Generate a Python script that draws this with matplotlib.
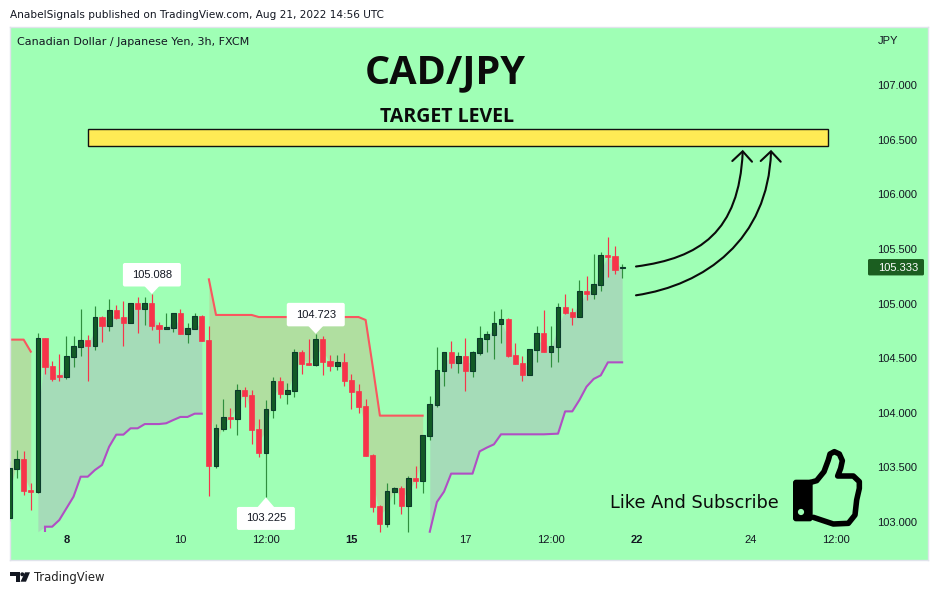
import matplotlib
matplotlib.use("Agg")
import matplotlib.pyplot as plt
import numpy as np
from matplotlib.patches import FancyBboxPatch, PathPatch, Polygon, Rectangle, Circle
from matplotlib.path import Path

opens = [103.040,103.488,103.574,103.293,103.278,104.685,104.429,104.346,104.331,104.514,
         104.606,104.667,104.615,104.877,104.798,104.941,104.877,104.825,105.002,104.954,
         105.005,104.804,104.770,104.780,104.914,104.725,104.770,104.886,104.667,103.516,
         103.855,103.962,103.946,104.209,104.163,103.852,103.635,104.029,104.291,104.175,
         104.203,104.557,104.456,104.441,104.676,104.474,104.432,104.465,104.300,104.200,
         104.062,103.614,103.147,102.985,103.278,103.311,103.150,103.403,103.379,103.791,
         104.074,104.386,104.557,104.456,104.520,104.383,104.548,104.679,104.716,104.816,
         104.859,104.529,104.456,104.349,104.578,104.731,104.560,104.606,104.969,104.923,
         104.880,105.115,105.091,105.173,105.445,105.436,105.323]
closes = [103.491,103.574,103.287,103.278,104.682,104.422,104.313,104.328,104.517,104.609,
          104.664,104.612,104.874,104.798,104.938,104.868,104.822,105.002,104.951,105.002,
          104.798,104.767,104.783,104.911,104.722,104.774,104.883,104.661,103.513,103.858,
          103.958,103.943,104.206,104.154,103.842,103.632,104.032,104.288,104.172,104.206,
          104.554,104.447,104.438,104.673,104.465,104.429,104.462,104.291,104.190,104.053,
          103.604,103.137,102.982,103.281,103.308,103.147,103.400,103.375,103.794,104.078,
          104.389,104.554,104.456,104.517,104.383,104.554,104.682,104.719,104.819,104.856,
          104.520,104.447,104.346,104.581,104.728,104.557,104.609,104.966,104.914,104.877,
          105.112,105.088,105.176,105.442,105.427,105.308,105.333]
highs = [103.562,103.659,103.650,103.357,104.731,104.685,104.474,104.538,104.703,104.703,
         104.951,104.712,104.978,104.886,105.042,104.987,105.024,105.002,105.060,105.060,
         105.088,104.832,104.914,104.911,104.951,104.822,104.914,104.896,104.795,103.897,
         104.126,104.044,104.264,104.236,104.209,103.943,104.117,104.328,104.328,104.273,
         104.584,104.575,104.676,104.723,104.703,104.529,104.529,104.548,104.355,104.264,
         104.126,103.623,103.156,103.357,103.321,103.330,103.421,103.513,103.794,104.154,
         104.603,104.554,104.658,104.557,104.685,104.566,104.795,104.749,104.932,104.951,
         104.868,104.639,104.520,104.581,104.795,104.941,104.795,105.002,105.088,104.960,
         105.216,105.253,105.454,105.473,105.610,105.527,105.363]
lows = [103.012,103.403,103.247,103.110,103.266,104.355,104.291,104.291,104.310,104.419,
        104.520,104.291,104.575,104.648,104.749,104.859,104.612,104.822,104.731,104.804,
        104.758,104.639,104.770,104.740,104.722,104.639,104.767,104.661,103.238,103.495,
        103.836,103.861,103.797,104.053,103.714,103.595,103.225,103.952,104.136,104.081,
        104.145,104.355,104.438,104.429,104.346,104.383,104.392,104.245,104.035,103.998,
        103.604,103.092,102.908,102.954,103.165,103.073,102.908,103.311,103.266,103.751,
        104.056,104.245,104.410,104.364,104.200,104.328,104.529,104.557,104.493,104.639,
        104.511,104.447,104.291,104.346,104.465,104.557,104.419,104.465,104.905,104.804,
        104.877,105.033,105.042,105.115,105.244,105.271,105.234]

upper_a_start = 0
upper_a = [104.670,104.670,104.670,104.560]
upper_b_start = 28
upper_b = [105.222,104.896,104.896,104.896,104.896,104.896,104.896,
           104.877,104.877,104.877,104.877,104.877,104.877,104.877,104.877,
           104.877,104.877,104.877,104.877,104.877,104.877,104.877,
           104.850,104.422,103.974,103.974,103.974,103.974,103.974,103.974,103.974]
lower_a_start = 4
lower_a = [102.911,102.957,102.957,103.018,103.125,103.232,103.415,103.415,103.476,103.522,
           103.690,103.800,103.800,103.858,103.858,103.897,103.897,103.897,103.904,103.934,
           103.962,103.962,103.992,103.992]
lower_b_start = 59
lower_b = [102.911,103.183,103.278,103.443,103.443,103.443,103.443,103.647,103.681,103.711,
           103.803,103.803,103.803,103.803,103.803,103.803,103.803,103.806,103.809,104.013,
           104.013,104.117,104.239,104.310,104.343,104.462,104.462,104.462]

y_ticks = [103.0,103.5,104.0,104.5,105.0,105.5,106.0,106.5,107.0]
x_tick_pos = [8,24,36,48,64,76,88,104,116]
x_tick_labels = ["8","10","12:00","15","17","12:00","22","24","12:00"]
bold_labels = ["8","15","22"]
last_price = 105.333
target_low, target_high = 106.44, 106.60
target_start, target_end = 11.1, 114.9
callouts = [(20,105.088,"105.088",1),(43,104.723,"104.723",1),(36,103.225,"103.225",-1)]

W,H = 938,595
BG = "#9FFFB5"; GREEN="#135A26"; GEDGE="#0C3B2C"; GWICK="#2F8F3E"; RED="#F7344A"
LINE_R="#F9575F"; LINE_P="#B04FC4"; FILL_R="#B0DFA0"; FILL_P="#A5DCB8"
TXT="#131722"
TICKFONT="Liberation Sans"; UI="DejaVu Sans"

fig = plt.figure(figsize=(W/100,H/100),dpi=100,facecolor="white")
L,R,T,B = 10,928,27,559.5
ax = fig.add_axes([L/W,1-B/H,(R-L)/W,(B-T)/H],facecolor=BG)
a,b = 9.4,7.125
ax.set_xlim((L-a)/b,(R-a)/b)
ax.set_ylim(103-(B-522)/109.2,103+(522-T)/109.2)
for s in ax.spines.values():
    s.set_color("#E0E3EB"); s.set_linewidth(1)

xs = np.arange(len(opens))
op,cl,hi,lo = map(np.array,(opens,closes,highs,lows))
mid = (op+cl)/2

def seg(start,vals):
    return np.arange(start,start+len(vals)),np.array(vals)

for st,v in ((upper_a_start,upper_a),(upper_b_start,upper_b)):
    x,y = seg(st,v)
    ax.fill_between(x,y,mid[x],color=FILL_R,lw=0,zorder=1)
    ax.plot(x,y,color=LINE_R,lw=1.5,zorder=2,solid_joinstyle="round")
for st,v in ((lower_a_start,lower_a),(lower_b_start,lower_b)):
    x,y = seg(st,v)
    ax.fill_between(x,y,mid[x],color=FILL_P,lw=0,zorder=1)
x,y = seg(lower_a_start,lower_a)
ax.plot(x[1:],y[1:],color=LINE_P,lw=1.5,zorder=2)
ax.vlines(x[1],y[0],y[1],color=LINE_P,lw=1.5,zorder=2)
x,y = seg(lower_b_start,lower_b)
ax.plot(x,y,color=LINE_P,lw=1.5,zorder=2)

up = cl>=op
ax.vlines(xs[up],lo[up],hi[up],color=GWICK,lw=0.85,zorder=3)
ax.vlines(xs[~up],lo[~up],hi[~up],color=RED,lw=0.85,zorder=3)
ax.bar(xs[up],(cl-op)[up],bottom=op[up],width=0.66,color=GREEN,edgecolor=GEDGE,linewidth=0.8,zorder=4)
ax.bar(xs[~up],(op-cl)[~up],bottom=cl[~up],width=0.72,color=RED,edgecolor=RED,linewidth=0.5,zorder=4)

ax.yaxis.tick_right()
ax.set_yticks(y_ticks)
ax.set_yticklabels([f"{t:.3f}" for t in y_ticks])
ax.tick_params(axis="y",length=0,pad=-36.5,labelsize=8.0,labelcolor=TXT)
ax.set_xticks(x_tick_pos)
ax.set_xticklabels(x_tick_labels)
ax.tick_params(axis="x",length=0,pad=-17.5,labelsize=8.0,labelcolor=TXT)
for t in ax.get_xticklabels()+ax.get_yticklabels():
    t.set_fontfamily(TICKFONT)
for t in ax.get_xticklabels():
    if t.get_text() in bold_labels:
        t.set_fontweight("bold")

# target zone in data units
ax.add_patch(Rectangle((target_start,target_low),target_end-target_start,target_high-target_low,
                       facecolor="#FFEB55",edgecolor="#111111",linewidth=1,zorder=5))

# overlay in pixel units for drawings and labels
ov = fig.add_axes([0,0,1,1],facecolor="none")
ov.set_xlim(0,W); ov.set_ylim(H,0); ov.axis("off")

def px(i,p):
    return a+b*i, 522-(p-103)*109.2

for i,p,label,d in callouts:
    xp,yp = px(i,p)
    tip = yp
    if d>0:
        top,bot = tip-31,tip-7.5
        tri = [(xp-8,bot-1),(xp+8,bot-1),(xp,tip)]
    else:
        top,bot = tip+9.5,tip+32.5
        tri = [(xp-9,top+1),(xp+9,top+1),(xp,tip)]
    ov.add_patch(FancyBboxPatch((xp-27,top+2),54,bot-top-4,boxstyle="round,pad=2,rounding_size=2",
                                facecolor="white",edgecolor="none",zorder=6))
    ov.add_patch(Polygon(tri,closed=True,facecolor="white",edgecolor="none",zorder=6))
    ov.text(xp,(top+bot)/2,label,ha="center",va="center",fontsize=8.0,family=TICKFONT,color=TXT,zorder=7)

# current price tag
tag_y = 522-(last_price-103)*109.2
ov.add_patch(FancyBboxPatch((869,tag_y-7.2),54,14.4,boxstyle="round,pad=1,rounding_size=1.5",
                            facecolor="#1B5E20",edgecolor="none",zorder=6))
ov.text(897.8,tag_y+0.5,f"{last_price:.3f}",ha="center",va="center",fontsize=8.0,family=TICKFONT,color="white",zorder=7)

# texts
ov.text(10.5,15,"AnabelSignals published on TradingView.com, Aug 21, 2022 14:56 UTC",ha="left",va="center",
        fontsize=7.6,family=UI,color=TXT)
ov.text(17,42,"Canadian Dollar / Japanese Yen, 3h, FXCM",ha="left",va="center",fontsize=8.0,family=UI,color=TXT)
ov.text(888,41,"JPY",ha="center",va="center",fontsize=8.0,family=TICKFONT,color=TXT)
ov.text(445,73,"CAD/JPY",ha="center",va="center",fontsize=28.5,family="Open Sans",weight="bold",color="#0b0b0b")
ov.text(447.5,117,"TARGET LEVEL",ha="center",va="center",fontsize=14,family="Open Sans",weight="bold",color="#0b0b0b")
ov.text(694,502.5,"Like And Subscribe",ha="center",va="center",fontsize=12.75,family=UI,color="#0b0b0b")
ov.text(33.5,577,"TradingView",ha="left",va="center",fontsize=8.4,family=UI,color="#222222")

# curved arrows
for pts,head in (([(636,266.5),(700,258),(739,232),(742.7,152)],[(732.3,161),(742.7,151.3),(752,161.7)]),
                 ([(636,295.3),(705,285),(768,240),(771,152)],[(760.7,161),(771,151.3),(780.7,161.7)])):
    ov.add_patch(PathPatch(Path(pts,[Path.MOVETO,Path.CURVE4,Path.CURVE4,Path.CURVE4]),
                           facecolor="none",edgecolor="#0b0b0b",lw=1.5,capstyle="round",zorder=6))
    ov.plot(*zip(*head),color="#0b0b0b",lw=1.5,solid_capstyle="round",solid_joinstyle="miter",zorder=6)

# thumb icon
z = lambda pts:[(600+p/3,440+q/3) for p,q in pts]
thumb = z([(632,127),(650,122),(672,95),(685,60),(690,42),(703,35),(718,42),(727,62),(722,85),(713,108),
           (760,108),(778,125),(778,145),(770,180),(765,225),(745,250),(700,252),(640,232)])
ov.plot(*zip(*thumb),color="black",lw=4,solid_joinstyle="round",solid_capstyle="round",zorder=6)
ov.add_patch(FancyBboxPatch(z([(585,125)])[0],(632-585)/3,(238-125)/3,boxstyle="round,pad=2,rounding_size=3",
                            facecolor="black",edgecolor="none",zorder=6))
ov.add_patch(Circle(z([(603,216)])[0],3.1,facecolor=BG,edgecolor="none",zorder=7))

# logo
ov.add_patch(Polygon([(10,572.3),(20,572.3),(20,581.7),(15.7,581.7),(15.7,576),(10,576)],facecolor="#131722",edgecolor="none"))
ov.add_patch(Circle((22.3,574.3),2,facecolor="#131722",edgecolor="none"))
ov.add_patch(Polygon([(25,572.3),(30,572.3),(26,581.7),(20.5,581.7)],facecolor="#131722",edgecolor="none"))

fig.savefig("out.png",dpi=100,facecolor="white")
